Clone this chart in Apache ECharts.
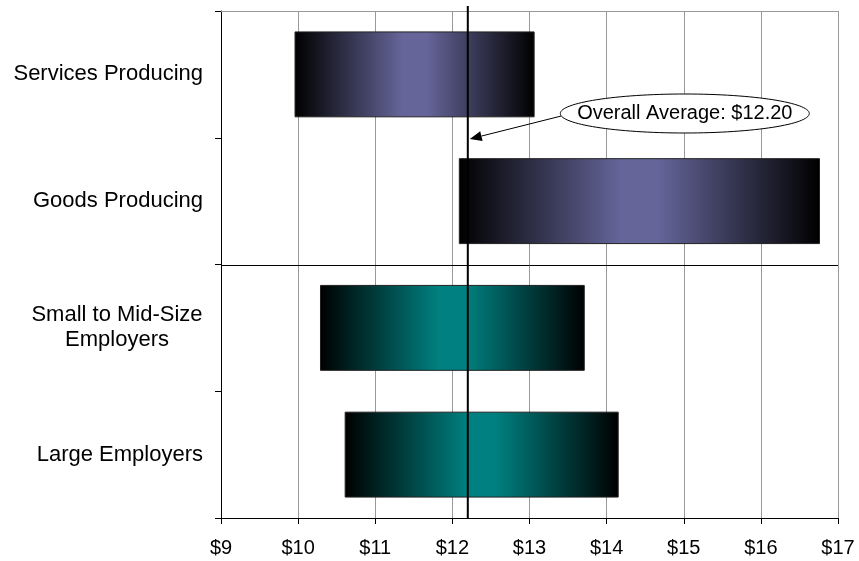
<!DOCTYPE html>
<html><head><meta charset="utf-8">
<script src="https://cdn.jsdelivr.net/npm/echarts@6/dist/echarts.min.js"></script>
<style>html,body{margin:0;padding:0;background:#fff}#c{width:859px;height:561px}</style>
</head><body><div id="c"></div>
<script>
const categories = ['Services Producing', 'Goods Producing', 'Small to Mid-Size\nEmployers', 'Large Employers'];
const lowValues = [9.96, 12.09, 10.29, 10.61];
const highValues = [13.06, 16.76, 13.71, 14.15];
const barGroups = ['industry', 'industry', 'size', 'size'];
const overallAverage = 12.2;
const axisMin = 9, axisMax = 17, axisStep = 1;
const calloutText = 'Overall Average: $12.20';
const separatorAfter = 1; // group divider between categories 1 and 2

const FONT = "'Liberation Sans', Arial, sans-serif";
const groupColor = { industry: '#65659a', size: '#008080' };

function gradient(c) {
  return new echarts.graphic.LinearGradient(0, 0, 1, 0, [
    { offset: 0, color: '#000' },
    { offset: 0.45, color: c },
    { offset: 0.55, color: c },
    { offset: 1, color: '#000' }
  ]);
}

const mctx = document.createElement('canvas').getContext('2d');
mctx.font = '22px ' + FONT;
let multiW = 0;
categories.forEach(c => { if (c.indexOf('\n') >= 0) c.split('\n').forEach(l => { multiW = Math.max(multiW, Math.ceil(mctx.measureText(l).width)); }); });

const chart = echarts.init(document.getElementById('c'), null, { renderer: 'canvas' });
const barData = categories.map((c, i) => [lowValues[i], highValues[i], i]);

const option = {
  animation: false,
  grid: { left: 221, right: 21, top: 11, bottom: 43 },
  xAxis: {
    type: 'value', min: axisMin, max: axisMax, interval: axisStep,
    axisLine: { show: true, lineStyle: { color: '#000', width: 1 } },
    axisTick: { show: true, length: 6, lineStyle: { color: '#000' } },
    axisLabel: { formatter: v => '$' + v, fontSize: 20, color: '#000', fontFamily: FONT, margin: 20 },
    splitLine: { show: true, lineStyle: { color: '#999', width: 1 } }
  },
  yAxis: {
    type: 'category', data: categories, inverse: true, boundaryGap: true,
    axisLine: { show: true, lineStyle: { color: '#000' } },
    axisTick: { show: true, length: 6, lineStyle: { color: '#000' } },
    splitLine: { show: false },
    axisLabel: {
      fontSize: 22, color: '#000', fontFamily: FONT, margin: 18, lineHeight: 25,
      formatter: v => v.indexOf('\n') >= 0 ? v.split('\n').map(l => '{c|' + l + '}').join('\n') : v,
      rich: { c: { width: multiW, align: 'center', fontSize: 22, fontFamily: FONT, color: '#000', lineHeight: 25 } }
    }
  },
  series: [
    {
      type: 'custom', name: 'frame', data: [[separatorAfter]],
      encode: { y: 0 }, z: 1, silent: true,
      renderItem: (params, api) => {
        const cs = params.coordSys;
        const i = api.value(0);
        const yA = api.coord([axisMin, i])[1], yB = api.coord([axisMin, i + 1])[1];
        const ys = (yA + yB) / 2;
        return {
          type: 'group', children: [
            { type: 'line', shape: { x1: cs.x, y1: cs.y + 0.5, x2: cs.x + cs.width, y2: cs.y + 0.5 }, style: { stroke: '#999', lineWidth: 1 } },
            { type: 'line', shape: { x1: cs.x, y1: Math.round(ys) + 0.5, x2: cs.x + cs.width, y2: Math.round(ys) + 0.5 }, style: { stroke: '#000', lineWidth: 1 } }
          ]
        };
      }
    },
    {
      type: 'custom', name: 'range', data: barData,
      encode: { x: [0, 1], y: 2 },
      renderItem: (params, api) => {
        const cat = api.value(2);
        const p0 = api.coord([api.value(0), cat]);
        const p1 = api.coord([api.value(1), cat]);
        const h = api.size([0, 1])[1] * 0.67;
        return {
          type: 'rect',
          shape: { x: p0[0], y: p0[1] - h / 2, width: p1[0] - p0[0], height: h },
          style: { fill: gradient(groupColor[barGroups[cat]]), stroke: '#222', lineWidth: 1 }
        };
      },
      z: 2
    },
    {
      type: 'custom', name: 'average', data: [[overallAverage]],
      encode: { x: 0 },
      z: 5,
      renderItem: (params, api) => {
        const x = api.coord([api.value(0), 0])[0];
        const cs = params.coordSys;
        const top = cs.y;
        const ecx = x + 217, ecy = top + 102.5, rx = 124.5, ry = 19.5;
        const sx = ecx - rx + 1, sy = top + 105;
        const tx = x + 2, ty = top + 128;
        const dx = tx - sx, dy = ty - sy, len = Math.sqrt(dx * dx + dy * dy);
        const ux = dx / len, uy = dy / len;
        const hl = 12, hw = 5;
        const bx = tx - ux * hl, by = ty - uy * hl;
        const px = -uy, py = ux;
        return {
          type: 'group', children: [
            { type: 'line', shape: { x1: x, y1: top - 5, x2: x, y2: cs.y + cs.height }, style: { stroke: '#000', lineWidth: 2 } },
            { type: 'line', shape: { x1: sx, y1: sy, x2: bx, y2: by }, style: { stroke: '#000', lineWidth: 1 } },
            { type: 'polygon', shape: { points: [[tx, ty], [bx + px * hw, by + py * hw], [bx - px * hw, by - py * hw]] }, style: { fill: '#000' } },
            { type: 'ellipse', shape: { cx: ecx, cy: ecy, rx: rx, ry: ry }, style: { fill: '#fff', stroke: '#000', lineWidth: 1 } },
            { type: 'text', style: { x: ecx, y: ecy, text: calloutText, align: 'center', verticalAlign: 'middle', fontSize: 20, fontFamily: FONT, fill: '#000' } }
          ]
        };
      }
    }
  ]
};
chart.setOption(option);
</script>
</body></html>
